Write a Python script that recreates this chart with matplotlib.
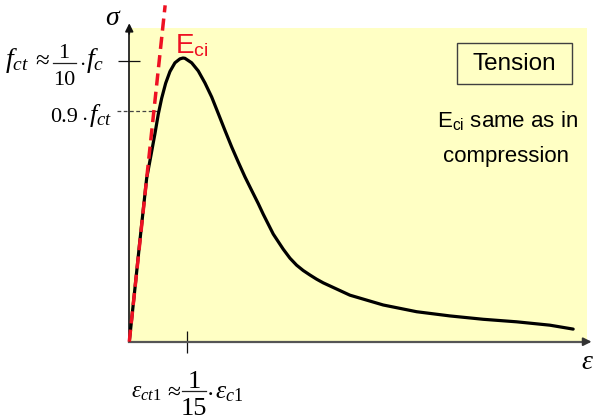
import matplotlib
matplotlib.use("Agg")
import matplotlib.pyplot as plt
from matplotlib.patches import Rectangle
from matplotlib.lines import Line2D

plt.rcParams['font.family'] = ['Liberation Sans', 'DejaVu Sans']
plt.rcParams['mathtext.fontset'] = 'custom'
plt.rcParams['mathtext.rm'] = 'Liberation Serif'
plt.rcParams['mathtext.it'] = 'Liberation Serif:italic'
plt.rcParams['mathtext.bf'] = 'Liberation Serif:bold'
plt.rcParams['mathtext.sf'] = 'Liberation Sans'

# ---- data (strain in units of eps_ct1, stress in units of f_ct) ----
eps = [0.0, 0.099, 0.186, 0.303, 0.378, 0.448, 0.505, 0.564, 0.634, 0.709,
       0.796, 0.883, 0.936, 0.970, 1.087, 1.202, 1.319, 1.436, 1.551, 1.667,
       1.784, 1.899, 2.016, 2.132, 2.247, 2.334, 2.509, 2.683, 2.800, 2.916,
       3.031, 3.148, 3.265, 3.380, 3.845, 4.425, 5.007, 5.587, 6.167, 6.749,
       7.329, 7.735]
sig = [0.0, 0.191, 0.362, 0.583, 0.665, 0.743, 0.811, 0.868, 0.922, 0.964,
       0.995, 1.009, 1.012, 1.011, 0.995, 0.966, 0.923, 0.873, 0.814, 0.754,
       0.695, 0.641, 0.588, 0.540, 0.493, 0.455, 0.384, 0.330, 0.298, 0.273,
       0.254, 0.238, 0.223, 0.210, 0.166, 0.131, 0.107, 0.092, 0.080, 0.071,
       0.059, 0.045]
eci_eps = [0.0, 0.625]
eci_sig = [0.0, 1.20]
f_ct = 1.0
f_ct09 = 0.823
eps_ct1 = 1.0
xmax, ymax = 7.97, 1.118
x_arrow, y_arrow = 8.056, 1.136

W, H = 596, 420
fig = plt.figure(figsize=(W / 100, H / 100), dpi=100)
ax = fig.add_axes([0.2169, 0.1864, 0.7674, 0.7462])
ax.set_facecolor('#FFFFC4')
ax.set_xlim(0, xmax)
ax.set_ylim(0, ymax)
for s in ['top', 'right']:
    ax.spines[s].set_visible(False)
ax.spines['left'].set_color('#111111')
ax.spines['left'].set_linewidth(1.2)
ax.spines['bottom'].set_color('#555555')
ax.spines['bottom'].set_linewidth(1.6)

# axis arrows
ax.annotate('', xy=(x_arrow, 0), xytext=(xmax - 0.05, 0), xycoords='data',
            arrowprops=dict(arrowstyle='-|>', color='#333333', lw=1.4,
                            mutation_scale=12, shrinkA=0, shrinkB=0),
            annotation_clip=False)
ax.annotate('', xy=(0, y_arrow), xytext=(0, ymax - 0.02), xycoords='data',
            arrowprops=dict(arrowstyle='-|>', color='#111111', lw=1.2,
                            mutation_scale=12, shrinkA=0, shrinkB=0),
            annotation_clip=False)

# ticks
ax.set_yticks([f_ct])
ax.set_yticklabels([''])
ax.set_xticks([eps_ct1])
ax.set_xticklabels([''])
ax.tick_params(axis='y', direction='inout', length=16, width=0.9, color='#111111')
ax.tick_params(axis='x', direction='inout', length=15.5, width=0.9, color='#111111')

# curve and secant
ax.plot(eps, sig, color='black', lw=2.3, solid_capstyle='round',
        solid_joinstyle='round', zorder=3)
ax.plot(eci_eps, eci_sig, color='#EE1122', lw=2.5, ls=(0, (3.5, 1.8)),
        clip_on=False, zorder=4)

# dashed 0.9 f_ct line
ax.plot([-0.22, 0.5], [f_ct09, f_ct09], color='#444444', lw=0.9,
        ls=(0, (3, 2)), clip_on=False, zorder=2)


# ---- text helpers (figure pixel positions) ----
def ftxt(x, y, s, **kw):
    kw.setdefault('va', 'baseline')
    fig.text(x / W, 1 - y / H, s, **kw)


def fbar(x0, x1, y):
    fig.add_artist(Line2D([x0 / W, x1 / W], [1 - y / H, 1 - y / H],
                          transform=fig.transFigure, color='#222222', lw=0.9))


serif = 'Liberation Serif'

# f_ct ~ 1/10 f_c
ftxt(5, 67, r'$f_{ct}$', ha='left', fontsize=20)
ftxt(41.5, 67, r'$\approx$', ha='center', fontsize=18)
ftxt(64, 58, '1', ha='center', fontsize=16, family=serif)
fbar(53, 76, 62.7)
ftxt(64, 85, '10', ha='center', fontsize=16, family=serif)
ftxt(82, 67, r'$\cdot$', ha='center', fontsize=16)
ftxt(86, 67, r'$f_c$', ha='left', fontsize=20)

# 0.9 f_ct
ftxt(50, 122, '0.9', ha='left', fontsize=16, family=serif)
ftxt(84, 122, r'$\cdot$', ha='center', fontsize=16)
ftxt(89, 122, r'$f_{ct}$', ha='left', fontsize=19)

# eps_ct1 ~ 1/15 eps_c1
ftxt(131, 398, r'$\varepsilon_{ct1}$', ha='left', fontsize=17)
ftxt(172.5, 398, r'$\approx$', ha='center', fontsize=17)
ftxt(194, 388, '1', ha='center', fontsize=19, family=serif)
fbar(181.7, 206, 391)
ftxt(194.3, 415, '15', ha='center', fontsize=19, family=serif)
ftxt(209.5, 398, r'$\cdot$', ha='center', fontsize=19)
ftxt(215, 398, r'$\varepsilon_{c1}$', ha='left', fontsize=18.5)

# axis symbols
ftxt(113, 18, r'$\sigma$', ha='center', va='center', fontsize=20)
ftxt(587, 362, r'$\varepsilon$', ha='center', va='center', fontsize=20)

ax.text(0.80, 1.028, r'$\mathsf{E}_{\mathsf{ci}}$', color='#EE1122',
        fontsize=20, ha='left', va='baseline')

ax.add_patch(Rectangle((0.717, 0.821), 0.250, 0.133, transform=ax.transAxes,
                       fill=False, edgecolor='#404040', lw=1.0))
ax.text(0.842, 0.8875, 'Tension', transform=ax.transAxes, ha='center',
        va='center', fontsize=17.5)
ax.text(0.828, 0.686, r'$\mathsf{E}_{\mathsf{ci}}$ same as in',
        transform=ax.transAxes, ha='center', va='baseline', fontsize=16)
ax.text(0.823, 0.574, 'compression', transform=ax.transAxes, ha='center',
        va='baseline', fontsize=16)

fig.savefig('out.png', dpi=100)
